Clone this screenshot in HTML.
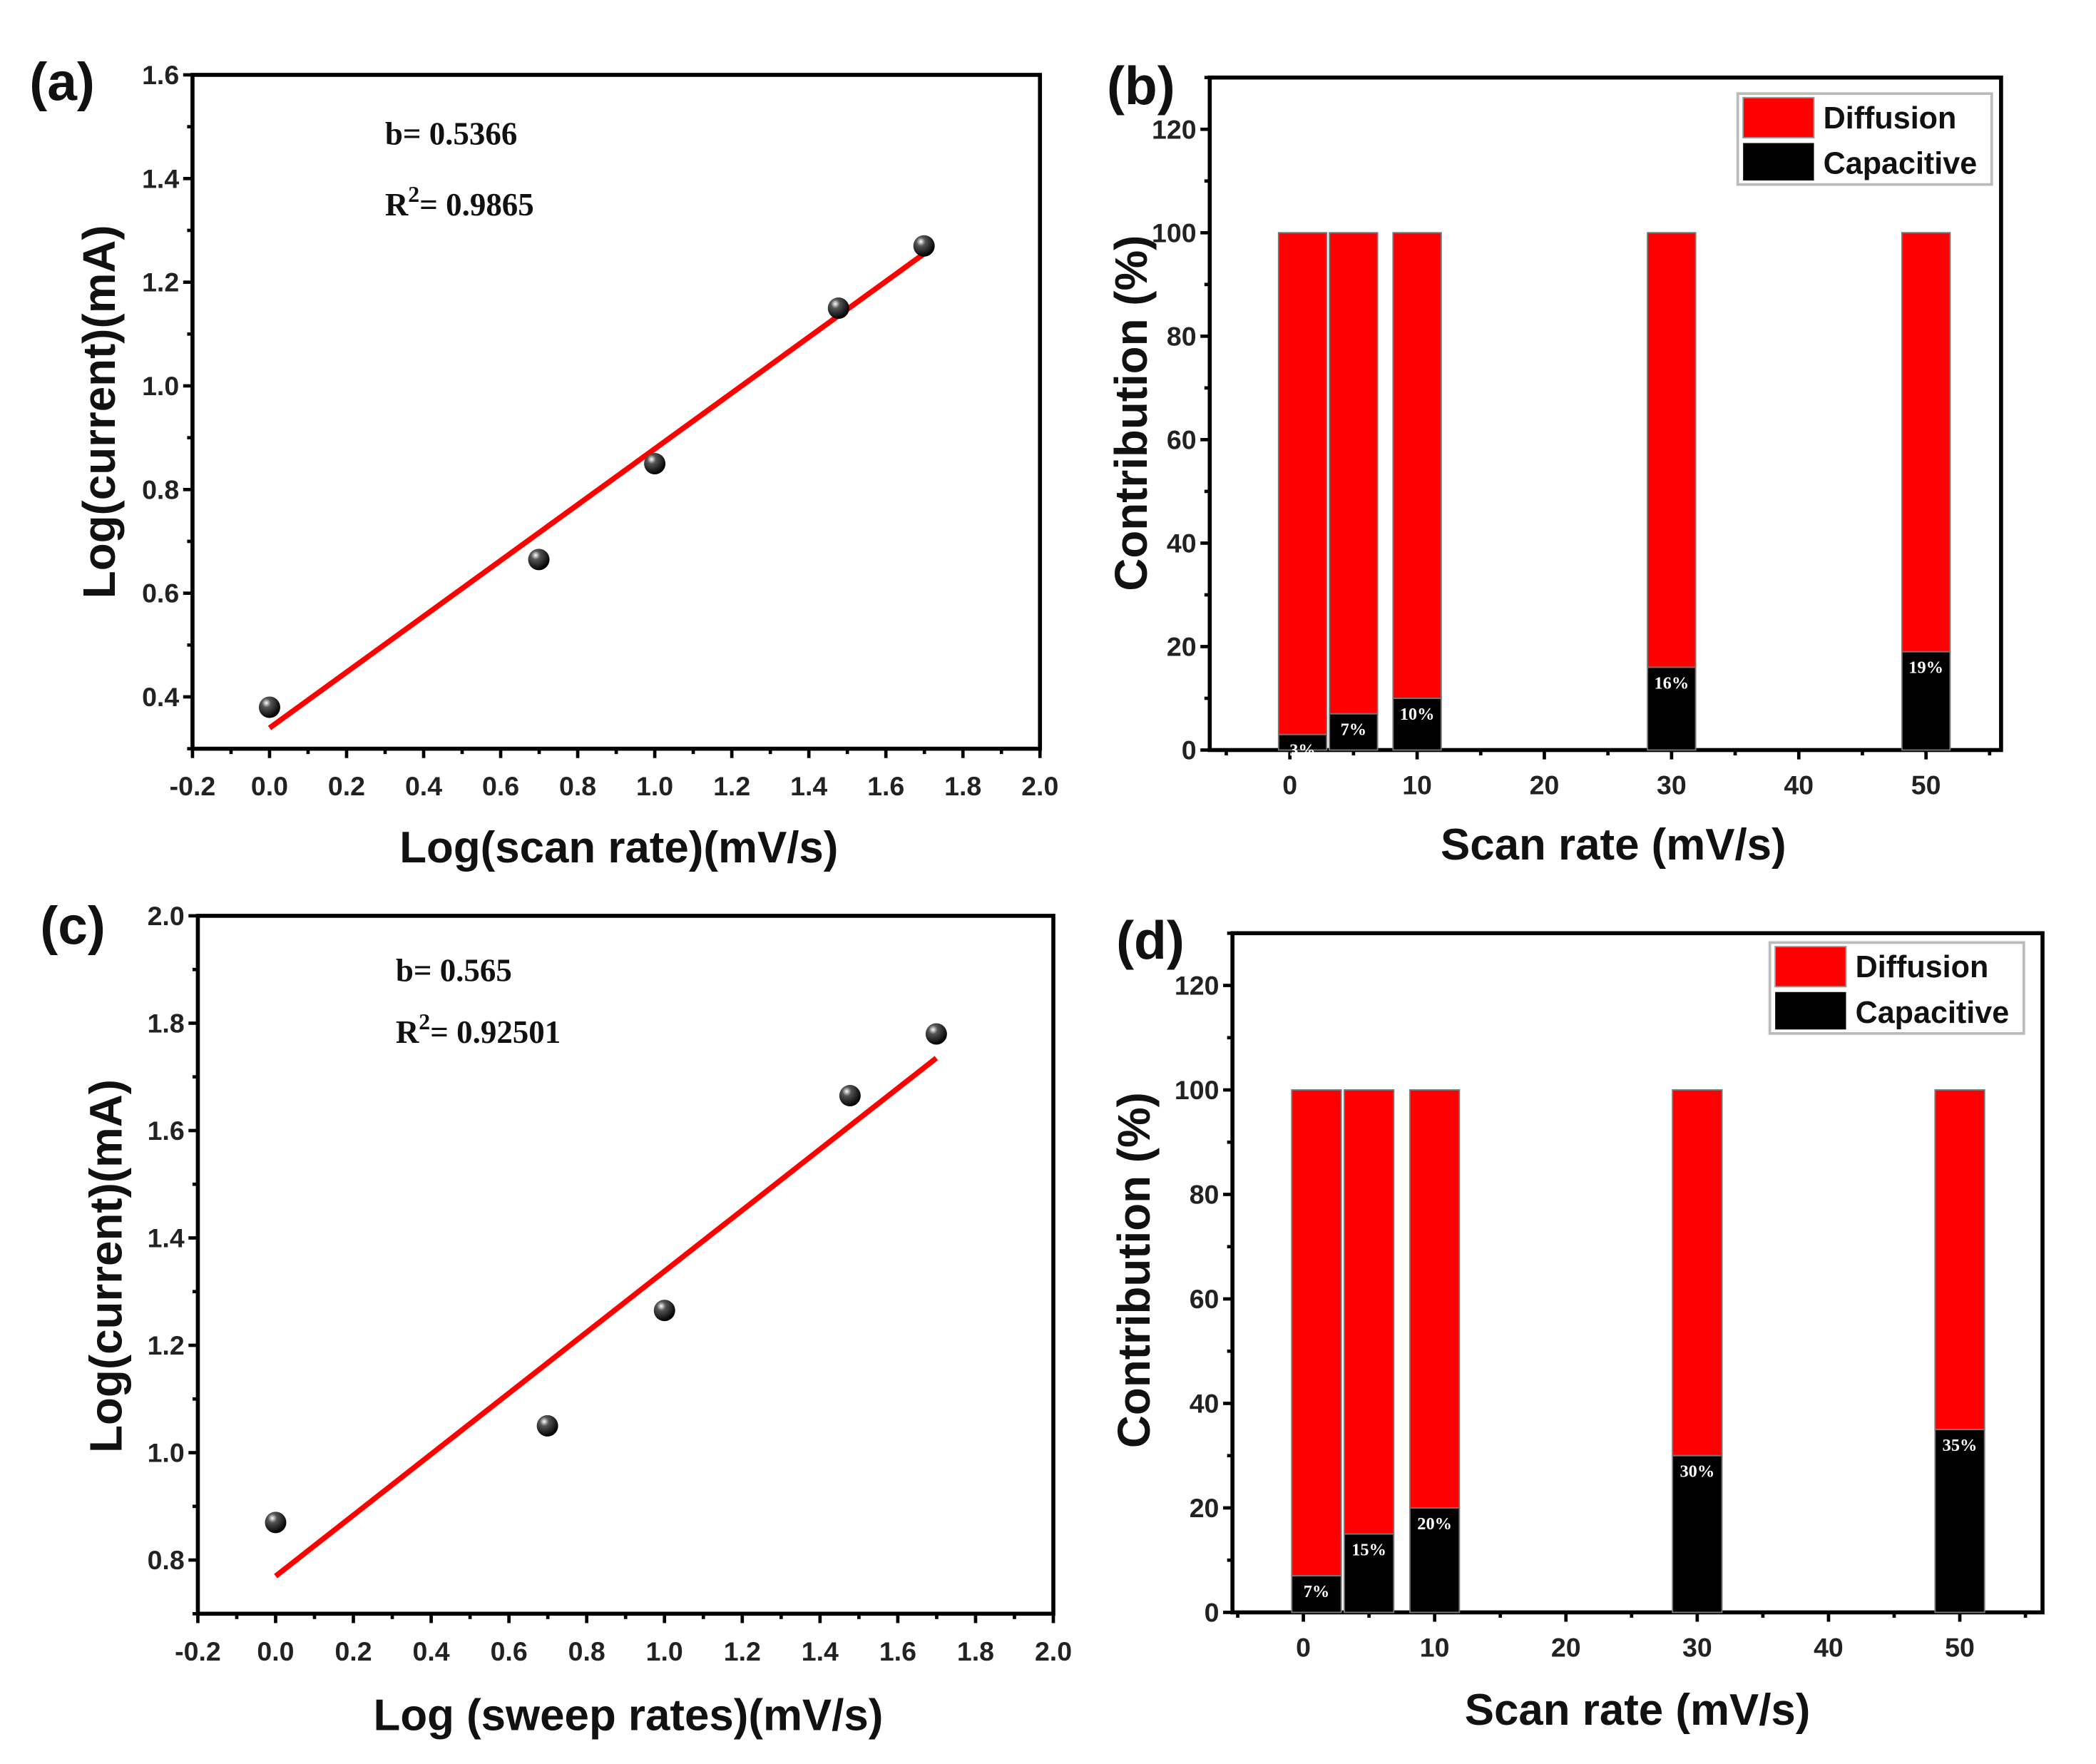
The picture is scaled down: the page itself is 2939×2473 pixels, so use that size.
<!DOCTYPE html>
<html><head><meta charset="utf-8"><style>
html,body{margin:0;padding:0;background:#fff}
svg{display:block}
.t{font-family:"Liberation Sans",sans-serif;font-weight:bold}
.s{font-family:"Liberation Serif",serif;font-weight:bold}
</style></head><body>
<svg id="fig" width="2939" height="2473" viewBox="0 0 1568 1319.4" xmlns="http://www.w3.org/2000/svg"></svg>
<script>
// Panel (a) data
const aX = [0, 0.699, 1.0, 1.477, 1.699];
const aY = [0.38, 0.665, 0.85, 1.15, 1.27];
const aFit = [0.34, 1.255];
// Panel (c) data
const cX = [0, 0.699, 1.0, 1.477, 1.699];
const cY = [0.87, 1.05, 1.265, 1.665, 1.78];
const cFit = [0.77, 1.735];
// Panel (b) data
const bRates = [1, 5, 10, 30, 50];
const bCap = [3, 7, 10, 16, 19];
const bLabels = ["3%", "7%", "10%", "16%", "19%"];
// Panel (d) data
const dRates = [1, 5, 10, 30, 50];
const dCap = [7, 15, 20, 30, 35];
const dLabels = ["7%", "15%", "20%", "30%", "35%"];
// Tick labels
const logXTicks = ["-0.2","0.0","0.2","0.4","0.6","0.8","1.0","1.2","1.4","1.6","1.8","2.0"];
const aYTicks = ["0.4","0.6","0.8","1.0","1.2","1.4","1.6"];
const cYTicks = ["0.8","1.0","1.2","1.4","1.6","1.8","2.0"];
const barXTicks = ["0","10","20","30","40","50"];
const barYTicks = ["0","20","40","60","80","100","120"];

const NS = "http://www.w3.org/2000/svg";
const svg = document.getElementById("fig");
function el(tag, attrs, parent, text){
  const e = document.createElementNS(NS, tag);
  for (const k in attrs) e.setAttribute(k, attrs[k]);
  if (text !== undefined) e.textContent = text;
  (parent || svg).appendChild(e);
  return e;
}
const defs = el("defs", {});
const rg = el("radialGradient", {id:"ball", cx:"0.35", cy:"0.3", r:"0.7"}, defs);
el("stop", {offset:"0", "stop-color":"#fff"}, rg);
el("stop", {offset:"0.3", "stop-color":"#555"}, rg);
el("stop", {offset:"1", "stop-color":"#000"}, rg);

function scatterPanel(o){
  const g = el("g", {});
  
  
  const sx = v => o.L + (v - o.x0) / (o.x1 - o.x0) * (o.R - o.L);
  const sy = v => o.B - (v - o.y0) / (o.y1 - o.y0) * (o.B - o.T);
  const frame = el("rect", {x:o.L, y:o.T, width:o.R-o.L, height:o.B-o.T, fill:"none", stroke:"#000", "stroke-width":3}, g);
  
  
  for (let i = 0; i <= 22; i++){
    const v = -0.2 + i * 0.1;
    const x = sx(v);
    el("line", {x1:x, x2:x, y1:o.B, y2:o.B + (i % 2 === 0 ? 7 : 4), stroke:"#000", "stroke-width":2.5}, g);
  }
  logXTicks.forEach((t, i) => {
    const lbl = el("text", {x:sx(-0.2 + i*0.2), y:o.B + 35, "text-anchor":"middle", "font-size":20, class:"t", fill:"#222"}, g, t);
    
    
  });
  for (let v = o.y0; v <= o.y1 + 1e-6; v += 0.1){
    const y = sy(v);
    const major = Math.round(v*10) % 2 === 0;
    el("line", {x1:o.L, x2:o.L - (major ? 7 : 4), y1:y, y2:y, stroke:"#000", "stroke-width":2.5}, g);
  }
  o.yTicks.forEach(t => {
    const lbl = el("text", {x:o.L - 10, y:sy(parseFloat(t)) + 7, "text-anchor":"end", "font-size":20, class:"t", fill:"#222"}, g, t);
    
    
  });
  const fit = el("line", {x1:sx(o.xs[0]), y1:sy(o.fit[0]), x2:sx(o.xs[o.xs.length-1]), y2:sy(o.fit[1]), stroke:"#f00", "stroke-width":4}, g);
  
  
  o.xs.forEach((xv, i) => {
    const p = el("circle", {cx:sx(xv), cy:sy(o.ys[i]), r:8, fill:"url(#ball)"}, g);
    
    
  });
  const b = el("text", {x:o.tx, y:o.ty, "font-size":24, class:"s", fill:"#111"}, g, o.bText);
  
  
  const r = el("text", {x:o.tx, y:o.ty + o.dy, "font-size":24, class:"s", fill:"#111"}, g);
  
  
  el("tspan", {}, r, "R");
  el("tspan", {dy:-10, "font-size":17}, r, "2");
  el("tspan", {dy:10}, r, o.rText);
  const xt = el("text", {x:o.xtx, y:o.xty, "text-anchor":"middle", "font-size":33, class:"t", fill:"#111"}, g, o.xTitle);
  
  
  const yt = el("text", {x:0, y:0, transform:`translate(${o.ytx},${o.yty}) rotate(-90)`, "text-anchor":"middle", "font-size":34, class:"t", fill:"#111"}, g, "Log(current)(mA)");
  
  
  const pl = el("text", {x:o.plx, y:o.ply, "font-size":40, class:"t", fill:"#111"}, g, o.panel);
  
  
}

function barPanel(o){
  const g = el("g", {});
  
  
  const sx = v => o.L + (v - o.x0) / (o.x1 - o.x0) * (o.R - o.L);
  const sy = v => o.B - v / 130 * (o.B - o.T);
  const frame = el("rect", {x:o.L, y:o.T, width:o.R-o.L, height:o.B-o.T, fill:"none", stroke:"#000", "stroke-width":3}, g);
  
  
  for (let v = -5; v <= 55; v += 5){
    el("line", {x1:sx(v), x2:sx(v), y1:o.B, y2:o.B + (v % 10 === 0 ? 7 : 4), stroke:"#000", "stroke-width":2.5}, g);
  }
  barXTicks.forEach(t => {
    const lbl = el("text", {x:sx(+t), y:o.B + 33, "text-anchor":"middle", "font-size":20, class:"t", fill:"#222"}, g, t);
    
    
  });
  for (let v = 0; v <= 130; v += 10){
    el("line", {x1:o.L, x2:o.L - (v % 20 === 0 ? 7 : 4), y1:sy(v), y2:sy(v), stroke:"#000", "stroke-width":2.5}, g);
  }
  barYTicks.forEach(t => {
    const lbl = el("text", {x:o.L - 10, y:sy(+t) + 7, "text-anchor":"end", "font-size":20, class:"t", fill:"#222"}, g, t);
    
    
  });
  const w = o.bw;
  o.rates.forEach((rv, i) => {
    const x = sx(rv) - w/2;
    const d = el("rect", {x:x, y:sy(100), width:w, height:sy(o.cap[i]) - sy(100), fill:"#f00", stroke:"#777", "stroke-width":1}, g);
    
    
    const c = el("rect", {x:x, y:sy(o.cap[i]), width:w, height:sy(0) - sy(o.cap[i]), fill:"#000", stroke:"#777", "stroke-width":1}, g);
    
    
    const lbl = el("text", {x:sx(rv), y:sy(o.cap[i]) + 16, "text-anchor":"middle", "font-size":13, class:"s", fill:"#fff"}, g, o.labels[i]);
    
    
  });
  const lg = el("g", {}, g);
  
  
  el("rect", {x:o.lgx, y:o.lgy, width:190, height:68, fill:"#fff", stroke:"#bbb", "stroke-width":2}, lg);
  el("rect", {x:o.lgx+4, y:o.lgy+3, width:53, height:30, fill:"#f00", stroke:"#999", "stroke-width":1}, lg);
  el("rect", {x:o.lgx+4, y:o.lgy+37, width:53, height:28, fill:"#000"}, lg);
  const e1 = el("text", {x:o.lgx+64, y:o.lgy+26, "font-size":23, class:"t", fill:"#111"}, lg, "Diffusion");
  
  
  const e2 = el("text", {x:o.lgx+64, y:o.lgy+60, "font-size":23, class:"t", fill:"#111"}, lg, "Capacitive");
  
  
  const xt = el("text", {x:o.xtx, y:o.xty, "text-anchor":"middle", "font-size":33, class:"t", fill:"#111"}, g, "Scan rate (mV/s)");
  
  
  const yt = el("text", {x:0, y:0, transform:`translate(${o.ytx},${o.yty}) rotate(-90)`, "text-anchor":"middle", "font-size":34, class:"t", fill:"#111"}, g, "Contribution (%)");
  
  
  const pl = el("text", {x:o.plx, y:o.ply, "font-size":40, class:"t", fill:"#111"}, g, o.panel);
  
  
}

scatterPanel({name:"panel-a", panel:"(a)", L:144, R:778, T:56, B:560, x0:-0.2, x1:2.0, y0:0.3, y1:1.6,
  yTicks:aYTicks, xs:aX, ys:aY, fit:aFit, bText:"b= 0.5366", rText:"= 0.9865", tx:288, ty:108, dy:53,
  xTitle:"Log(scan rate)(mV/s)", xtx:463, xty:645, ytx:86, yty:308, plx:22, ply:75});
scatterPanel({name:"panel-c", panel:"(c)", L:148, R:788, T:685, B:1207, x0:-0.2, x1:2.0, y0:0.7, y1:2.0,
  yTicks:cYTicks, xs:cX, ys:cY, fit:cFit, bText:"b= 0.565", rText:"= 0.92501", tx:296, ty:734, dy:46,
  xTitle:"Log (sweep rates)(mV/s)", xtx:470, xty:1294, ytx:91, yty:947, plx:30, ply:706});
barPanel({name:"panel-b", panel:"(b)", L:905, R:1497, T:58, B:561, x0:-6.3, x1:55.9, bw:36,
  rates:bRates, cap:bCap, labels:bLabels, lgx:1300, lgy:70, xtx:1207, xty:643, ytx:858, yty:309, plx:828, ply:78});
barPanel({name:"panel-d", panel:"(d)", L:922, R:1528, T:698, B:1206, x0:-5.4, x1:56.3, bw:37,
  rates:dRates, cap:dCap, labels:dLabels, lgx:1324, lgy:705, xtx:1225, xty:1290, ytx:860, yty:950, plx:835, ply:717});
</script>
</body></html>
